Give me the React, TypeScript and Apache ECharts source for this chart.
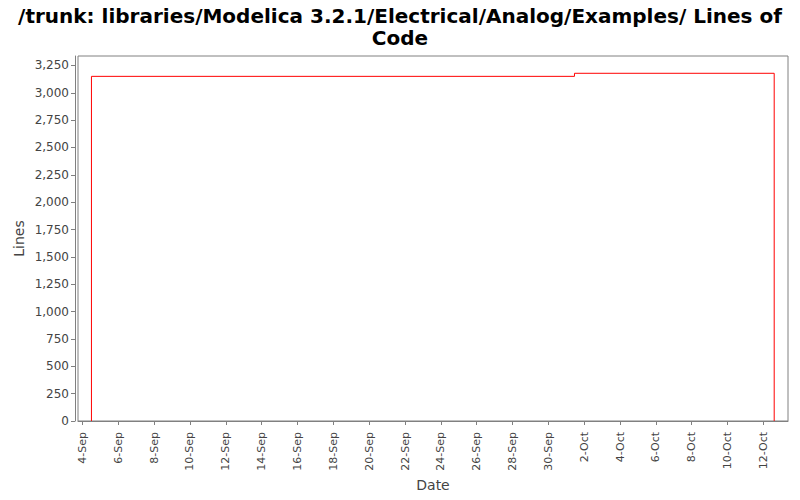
import React, { useEffect, useRef } from "react";
import * as echarts from "echarts";

const titleText = "/trunk: libraries/Modelica 3.2.1/Electrical/Analog/Examples/ Lines of\nCode";
// step-change moments (local time) and the line count from that moment on
const stepDates: [number, number, number, number, number][] = [
  [2013, 8, 4, 12, 0],
  [2013, 8, 4, 12, 0],
  [2013, 9, 1, 11, 0],
  [2013, 9, 12, 14, 30],
];
const stepValues = [0, 3150, 3178, 0];
const axisStart: [number, number, number, number, number] = [2013, 8, 3, 18, 0];
const axisEnd: [number, number, number, number, number] = [2013, 9, 13, 9, 0];
const xTickDays: [number, number, number][] = [
  [2013, 8, 4], [2013, 8, 6], [2013, 8, 8], [2013, 8, 10], [2013, 8, 12],
  [2013, 8, 14], [2013, 8, 16], [2013, 8, 18], [2013, 8, 20], [2013, 8, 22],
  [2013, 8, 24], [2013, 8, 26], [2013, 8, 28], [2013, 8, 30], [2013, 9, 2],
  [2013, 9, 4], [2013, 9, 6], [2013, 9, 8], [2013, 9, 10], [2013, 9, 12],
];
const yTicks = [0, 250, 500, 750, 1000, 1250, 1500, 1750, 2000, 2250, 2500, 2750, 3000, 3250];
const yMax = 3336;
const monthNames = ["Jan", "Feb", "Mar", "Apr", "May", "Jun", "Jul", "Aug", "Sep", "Oct", "Nov", "Dec"];

const ts = (a: number[]) => new Date(a[0], a[1], a[2], a[3] || 0, a[4] || 0).getTime();

export default function App() {
  const ref = useRef<HTMLDivElement>(null);
  useEffect(() => {
    if (!ref.current) return;
    const chart = echarts.init(ref.current, undefined, { renderer: "svg" });
    const font = "'DejaVu Sans', sans-serif";
    const xTicks = xTickDays.map((d) => ts(d));
    chart.setOption({
      animation: false,
      backgroundColor: "#ffffff",
      title: {
        text: titleText,
        left: "center",
        top: 5,
        padding: 0,
        textStyle: {
          fontFamily: font,
          fontWeight: "bold",
          fontSize: 20,
          color: "#000",
          lineHeight: 22,
        },
      },
      grid: {
        left: 78,
        right: 12,
        top: 56,
        bottom: 79,
        outerBoundsMode: "none",
        containLabel: false,
        show: true,
        borderColor: "#808080",
        borderWidth: 1,
        backgroundColor: "#ffffff",
      },
      xAxis: {
        type: "value",
        min: ts(axisStart),
        max: ts(axisEnd),
        scale: true,
        offset: 4,
        name: "Date",
        nameLocation: "middle",
        nameGap: 53,
        nameMoveOverlap: false,
        nameTextStyle: { fontFamily: font, fontSize: 14, color: "#444" },
        axisLine: { show: true, lineStyle: { color: "#808080" } },
        axisTick: { show: true, length: 4, lineStyle: { color: "#808080" }, customValues: xTicks },
        splitLine: { show: false },
        axisLabel: {
          customValues: xTicks,
          rotate: 90,
          fontFamily: font,
          fontSize: 11,
          color: "#444",
          margin: 7,
          formatter: (v: number) => {
            const d = new Date(v);
            return d.getDate() + "-" + monthNames[d.getMonth()];
          },
        },
      },
      yAxis: {
        type: "value",
        min: 0,
        max: yMax,
        offset: 3,
        name: "Lines",
        nameLocation: "middle",
        nameGap: 49,
        nameMoveOverlap: false,
        nameTextStyle: { fontFamily: font, fontSize: 14, color: "#444" },
        axisLine: { show: true, lineStyle: { color: "#808080" } },
        axisTick: { show: true, length: 4, lineStyle: { color: "#808080" }, customValues: yTicks },
        splitLine: { show: false },
        axisLabel: {
          customValues: yTicks,
          fontFamily: font,
          fontSize: 12,
          color: "#444",
          margin: 6,
          formatter: (v: number) => v.toLocaleString("en-US"),
        },
      },
      series: [
        {
          type: "line",
          step: "end",
          showSymbol: false,
          symbol: "none",
          lineStyle: { color: "#ff0000", width: 1 },
          data: stepDates.map((d, i) => [ts(d), stepValues[i]]),
        },
      ],
    });
    return () => chart.dispose();
  }, []);
  return <div ref={ref} style={{ width: 800, height: 500, position: "absolute", left: 0, top: 0 }} />;
}
